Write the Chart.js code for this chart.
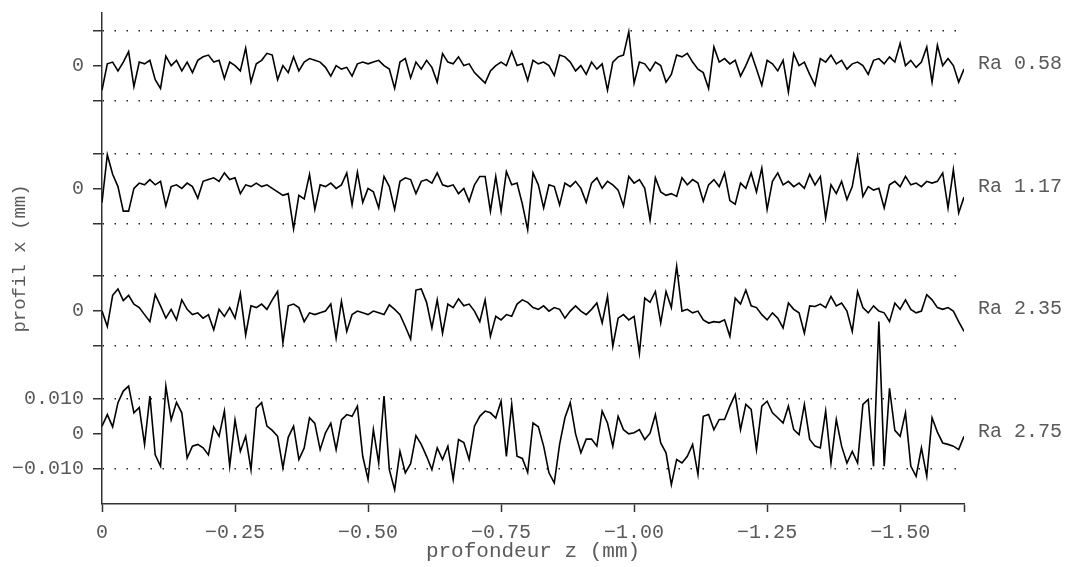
<!DOCTYPE html>
<html lang="fr">
<head>
<meta charset="UTF-8">
<title>Profils de rugosité</title>
<script src="https://cdn.jsdelivr.net/npm/chart.js"></script>
<style>
  * { box-sizing: border-box; }
  body { margin: 0; background: #fff; }
  #wrap { width: 1069px; height: 567px; }
</style>
</head>
<body>
<div id="wrap"><canvas id="profils" width="1069" height="567"></canvas></div>
<script>
// profils mesurés en µm, un point tous les 0.01 mm de profondeur (0 -> -1.62 mm)
const PAS = 0.01;

const profilRa058 = [
  -7, 0.5, 1, -1.5, 1, 4, -6, 1, 0.5, 1.5,
  -4, -6.5, 2.7, 0, 1.5, -1.5, 1, -2, 1.5, 2.5,
  3, 1, 1.5, -3.7, 1, 0, -1.5, 5, -4.7, 0.5,
  1.5, 3.5, 3, -4, 0, -2, 2.5, -1.5, 1, 2,
  1.5, 1, -0.5, -3, 0, -1, -0.5, -3, 0.5, 1,
  0.5, 1, 1.5, 0, -1, -6.5, 1, 2, -3.5, 1,
  -1, 1.5, -0.5, -4.7, 3.4, 1, 0.5, 2.5, 0, 0.5,
  -2, -3.5, -5, -1.5, 0, 1, 0, 4, 0, 0.5,
  -4.2, 1.5, 0.5, 1, 0, -2.8, 3, 2.5, 1, -1.5,
  0, -2.5, 1, -1, 0.5, -7, 1, 2.5, 3, 9.6,
  -5, 1, 0.5, -1.5, 1, 0, -4.7, -2.5, 3, 2.5,
  3.5, 1, -1, -2, -6.5, 5.3, 1, 2, 0.5, 1.5,
  -3, 0, 3.5, -1, -5.6, 1.5, 0.5, -1.5, 1.5, -7.5,
  3.4, 0, 1, -2.5, -5.6, 2, 1, 3, 0.5, 1.5,
  -1, 0.5, 1, 0, -2.5, 1.5, 2, 0.5, 2.5, 1,
  6.3, 0, 1.5, -0.5, 1, 5.3, -4.7, 5.8, 0, 2,
  0, -4.7, -1
];

const profilRa117 = [
  -4, 9.6, 4, 0.5, -6.5, -6.5, 0, 1.5, 1, 2.5,
  1, 2, -5, 0.5, 1, 0, 1.5, 0.5, -2.8, 2,
  2.5, 3, 2, 4.4, 2.5, 3, -1.5, 1, 0.5, 1.5,
  0.5, 1, 0, -1, -2, -1.5, -11.5, -2, -3, 4,
  -6, 1, 0.5, 1.5, 0, 1, 4.4, -4.7, 4.6, -4,
  0, -1, -5.6, 3.4, 0.5, -6, 2, 3, 2.5, -1.5,
  2, 2.5, 1.5, 4.4, 1, 0.5, 1, -1.5, 0, -3.7,
  1, 3.4, 3.4, -6.5, 3.4, -6.5, 4.8, 1, 1.5, -4.5,
  -11.8, 4.4, 1, -5.6, 1, 0.5, -4.7, 1.5, 0.5, 2,
  0, -4, 1.5, 3, 0, 2, 1, -0.5, -5, 3.4,
  1.5, 2.5, 0, -9, 3, -1, -2, -1.5, -2.3, 3,
  1, 2.5, 1.5, -3.7, 1, 2.5, 0.5, 4.4, -3.5, -4.5,
  1.5, 0, 4.4, -1, 5.8, -6, 2, 4.4, 1, 2,
  0.5, 1.5, 0, 4, 1, 3.4, -8.5, 1, -1.5, 2,
  -3.2, 0.5, 9.1, -2.3, 0.5, -0.5, 0, -5.6, 1, 2,
  0.5, 3.4, 1, 1.5, 0.5, 2, 1.5, 2, 4.4, -5.6,
  5.3, -7, -2.5
];

const profilRa235 = [
  0, -4.4, 4.5, 6.3, 3, 4.5, 2, 1, -1, -3,
  4.7, 1.5, -2, 0.5, -2.5, 3.2, 0.5, -1, -0.5, -2,
  -1, -5.3, 0.5, -1.5, 1, -2, 5, -6.8, 1.5, 1,
  2, 0.5, 3.2, 5.6, -9, 1.5, 2, 1, -3, -0.5,
  -1, -0.5, 0, 2, -7.7, 2.8, -5.8, -1, 0, -0.5,
  -1, 0, -0.5, -1, 1.8, 0.5, -1, -4.4, -8, 6,
  6.3, 2.5, -4.8, 3.2, -6.3, 2, 1, 3.5, 1.5, 2,
  0, -3, 3.2, -7.2, -1.5, -2.5, -1, -1.5, 2, 3.2,
  2.5, 1, 0.5, 1.5, 0, 1, 0.5, -2, 0, 1.5,
  0, -1, 0.5, 2.3, -3.4, 4.2, -10, -2, -1, -2.5,
  -1.5, -12, 3.7, 2.5, 5.6, -3.4, 5.6, 1, 12.8, 0,
  0.5, -0.5, 0, -2.5, -3.4, -3, -3.2, -2.5, -7.2, 3.7,
  2, 6, 1.5, 1, -1, -2.5, -0.5, -2, -4.8, 2.3,
  0.5, -0.5, -6.3, 1.5, 1.3, 2, 1, 4.2, 1.5, 2.3,
  0, -5.8, 5.6, 1, -0.5, 1.5, 0, -0.5, -3, 2.3,
  0.5, 3.2, 0.5, -0.5, 0, 4.7, 3.2, 1, 0.5, 1,
  0, -3, -5.8
];

const profilRa275 = [
  2.2, 5.5, 2, 8.9, 12.2, 13.6, 6, 7.5, -3, 10.8,
  -6, -9.2, 13.6, 4, 9, 6, -6.9, -3.5, -3, -4,
  -6, 2, -0.7, 6.5, -9.2, 4, -5, -0.7, -10.2, 7.4,
  8.9, 2.2, 1, -0.7, -9.7, -1, 2.2, -7.3, -4, 4.6,
  3, -4.5, 0.3, 3, -4.5, 4, 5.5, 5, 7.9, -6.4,
  -13, 1.2, -8.3, 10.8, -10.2, -15.9, -5, -11.1, -8.5, -0.5,
  -3, -6.4, -10.2, -4, -7.3, -3.5, -13, -1.6, -2.5, -7.3,
  2.2, 5, 6.5, 6, 4.5, 9.3, -6.4, 8.4, -6.4, -7,
  -11, 3.1, 2, -3.5, -11.1, -14, -3, 4.6, 8.9, 0,
  -5.4, -1.5, -1.5, -3.5, 6.5, 3.1, -3.5, 5, 1.2, 0,
  0.3, 1.2, -1.6, 0.2, 5.5, -2.6, -5.4, -14.5, -7.3, -8.3,
  -6.4, -3, -11.6, 5, 5.5, 1.2, 4.1, 4.1, 7.9, 11.2,
  1.2, 8.4, 7, -4.5, 7.9, 9.3, 6, 4.6, 3.1, 7.9,
  1.2, -0.2, 8.4, -1.6, -3.5, -4, 6.5, -8.3, 4.1, -3.5,
  -8.3, -5, -8.3, 8.4, 9.8, -9.2, 32, -9.2, 13, 1,
  -0.7, 6, -9.2, -12.1, -4, -12.1, 4.6, 0.5, -2.6, -3,
  -3.5, -4.5, -0.7
];

const profils = [profilRa058, profilRa117, profilRa235, profilRa275];
const rugosites = ['Ra 0.58', 'Ra 1.17', 'Ra 2.35', 'Ra 2.75'];
const decalages = [0.105, 0.070, 0.035, 0];        // mm, empilement des courbes
const ticksX = [0, -0.25, -0.5, -0.75, -1, -1.25, -1.5, -1.62];

const POLICE = "'Liberation Mono', 'Courier New', monospace";
const GRIS = '#5a5a5a';

const arrondi = v => Math.round(v * 10000) / 10000;
const ticksY = [];
decalages.slice().reverse().forEach(d => {
  ticksY.push(arrondi(d - 0.01), arrondi(d), arrondi(d + 0.01));
});
const estZero = v => decalages.some(d => Math.abs(v - d) < 1e-6);

const moins = s => s.replace('-', '\u2212');

const datasets = profils.map((vals, k) => ({
  data: vals.map((v, i) => ({ x: -arrondi(i * PAS), y: decalages[k] + v / 1000 })),
  borderColor: '#000',
  borderWidth: 1.6,
  pointRadius: 0,
  tension: 0
}));

// étiquettes Ra à droite de chaque profil
const etiquettesRa = {
  id: 'etiquettesRa',
  afterDraw(chart) {
    const { ctx, chartArea, scales: { y } } = chart;
    ctx.save();
    ctx.font = '20px ' + POLICE;
    ctx.fillStyle = GRIS;
    ctx.textAlign = 'left';
    ctx.textBaseline = 'middle';
    rugosites.forEach((txt, k) => {
      ctx.fillText(txt, chartArea.right + 14, y.getPixelForValue(decalages[k]) - 2);
    });
    ctx.restore();
  }
};

new Chart(document.getElementById('profils'), {
  type: 'line',
  data: { datasets },
  plugins: [etiquettesRa],
  options: {
    responsive: false,
    animation: false,
    layout: { padding: { top: 13, right: 105, left: 0, bottom: 0 } },
    plugins: { legend: { display: false }, tooltip: { enabled: false } },
    scales: {
      x: {
        type: 'linear',
        min: -1.62,
        max: 0,
        reverse: true,
        afterBuildTicks: s => { s.ticks = ticksX.map(v => ({ value: v })); },
        afterFit: s => { s.height = 63; },
        ticks: {
          autoSkip: false,
          maxRotation: 0,
          padding: 9,
          color: GRIS,
          font: { family: POLICE, size: 20 },
          callback: v => v === -1.62 ? '' : (v === 0 ? '0' : moins(v.toFixed(2)))
        },
        grid: { drawOnChartArea: false, tickLength: 8, tickColor: '#333', tickWidth: 1.5 },
        border: { color: '#333', width: 1.5 },
        title: {
          display: true,
          text: 'profondeur z (mm)',
          color: GRIS,
          font: { family: POLICE, size: 21 },
          padding: { top: 0, bottom: 3 }
        }
      },
      y: {
        type: 'linear',
        min: -0.02,
        max: 0.12,
        afterBuildTicks: s => { s.ticks = ticksY.map(v => ({ value: v })); },
        afterFit: s => {
          s.width = 102;
          // les étiquettes extrêmes sont vides : pas de marge à réserver
          s.paddingTop = 0;
          s.paddingBottom = 0;
        },
        ticks: {
          autoSkip: false,
          padding: 9,
          color: GRIS,
          font: { family: POLICE, size: 20 },
          callback: v => {
            if (estZero(v)) return '0';
            if (Math.abs(v - 0.01) < 1e-6) return '0.010';
            if (Math.abs(v + 0.01) < 1e-6) return moins('-0.010');
            return '';
          }
        },
        grid: {
          color: c => (c.tick && estZero(c.tick.value)) ? 'rgba(0,0,0,0)' : '#222',
          lineWidth: 1.5,
          tickLength: 9,
          tickColor: '#333',
          tickWidth: 1.5
        },
        border: { color: '#333', width: 1.5, dash: [1.5, 10.5] },
        title: {
          display: true,
          text: 'profil x (mm)',
          color: GRIS,
          font: { family: POLICE, size: 19 },
          padding: { top: 9, bottom: 0 }
        }
      }
    }
  }
});
</script>
</body>
</html>
